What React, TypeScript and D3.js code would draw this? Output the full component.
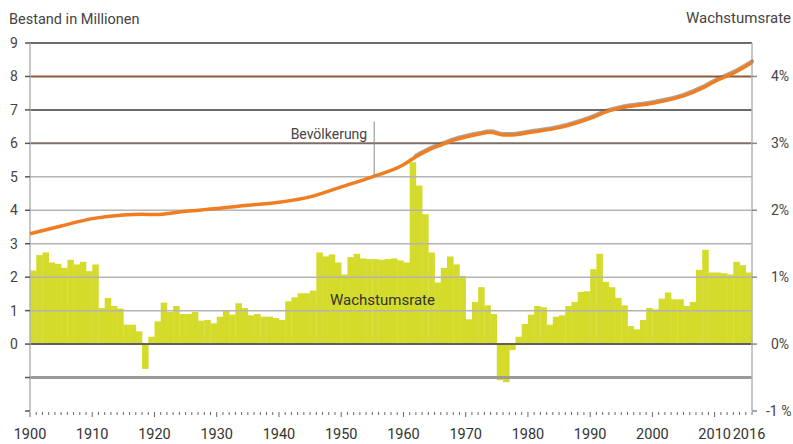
import { useEffect, useRef } from "react";
import * as d3 from "d3";

// Wachstumsrate in % pro Jahr, 1900..2015
const rateStartYear = 1900;
const growthRate = [
  1.10, 1.33, 1.37, 1.22, 1.20, 1.14, 1.26, 1.19, 1.23, 1.09,
  1.19, 0.54, 0.69, 0.57, 0.53, 0.29, 0.29, 0.19, -0.37, 0.11,
  0.34, 0.62, 0.48, 0.57, 0.45, 0.45, 0.48, 0.35, 0.36, 0.31,
  0.41, 0.50, 0.44, 0.61, 0.54, 0.43, 0.45, 0.41, 0.41, 0.39,
  0.36, 0.64, 0.70, 0.76, 0.76, 0.80, 1.37, 1.31, 1.34, 1.22,
  1.04, 1.30, 1.35, 1.28, 1.27, 1.27, 1.26, 1.27, 1.28, 1.25,
  1.22, 2.72, 2.37, 1.94, 1.37, 0.92, 1.14, 1.31, 1.19, 1.02,
  0.37, 0.63, 0.85, 0.58, 0.45, -0.54, -0.57, -0.09, 0.11, 0.30,
  0.44, 0.57, 0.55, 0.29, 0.41, 0.43, 0.57, 0.63, 0.78, 0.79,
  1.12, 1.35, 0.93, 0.85, 0.69, 0.58, 0.27, 0.22, 0.36, 0.54,
  0.52, 0.68, 0.77, 0.67, 0.67, 0.57, 0.63, 1.11, 1.41, 1.07,
  1.07, 1.06, 1.04, 1.23, 1.18, 1.07,
];

// Bevölkerung in Millionen
const popYears = [
  1900, 1905, 1910, 1915, 1918, 1920, 1925, 1930, 1935, 1940, 1945, 1950,
  1955, 1960, 1962, 1964, 1966, 1968, 1970, 1972, 1974, 1976, 1978, 1980,
  1985, 1990, 1993, 1995, 2000, 2005, 2008, 2010, 2013, 2016,
];
const popValues = [
  3.30, 3.53, 3.75, 3.86, 3.88, 3.87, 3.97, 4.05, 4.15, 4.24, 4.40, 4.70,
  5.00, 5.36, 5.60, 5.80, 5.95, 6.09, 6.19, 6.27, 6.33, 6.25, 6.26, 6.32,
  6.47, 6.75, 6.97, 7.06, 7.20, 7.42, 7.65, 7.85, 8.10, 8.42,
];

const leftTicks = [-2, -1, 0, 1, 2, 3, 4, 5, 6, 7, 8, 9];
const rightTicks = [-1, 0, 1, 2, 3, 4];
const xLabels = [1900, 1910, 1920, 1930, 1940, 1950, 1960, 1970, 1980, 1990, 2000, 2010, 2016];

export default function App() {
  const svgRef = useRef<SVGSVGElement | null>(null);

  useEffect(() => {
    document.body.style.margin = "0";
    const svg = d3.select(svgRef.current);
    const width = 793;
    const height = 444;
    const margin = { top: 43, right: 41, bottom: 33, left: 30 };
    const font = "Roboto, 'Noto Sans', sans-serif";

    svg.selectAll("*").remove();
    svg.attr("width", width).attr("height", height).style("font-family", font);

    const x = d3.scaleLinear().domain([1900, 2016]).range([margin.left, width - margin.right]);
    const yL = d3.scaleLinear().domain([-2, 9]).range([height - margin.bottom, margin.top]);
    const yR = d3.scaleLinear().domain([-1, 4.5]).range([height - margin.bottom, margin.top]);

    // bars
    const bars = growthRate.map((v, i) => ({ year: rateStartYear + i, v }));
    svg.append("g")
      .selectAll("rect")
      .data(bars)
      .enter()
      .append("rect")
      .attr("x", (d) => x(d.year))
      .attr("width", (d) => x(d.year + 1) - x(d.year) + 0.3)
      .attr("y", (d) => yR(Math.max(0, d.v)))
      .attr("height", (d) => Math.abs(yR(d.v) - yR(0)))
      .attr("fill", "#d5db2b");

    // grid
    const gridStyle = (t: number) => {
      if (t === 9 || t === 7) return { c: "#6b6b6b", w: 2 };
      if (t === 8) return { c: "#8d5a3a", w: 2 };
      if (t === 6) return { c: "#7d6f66", w: 2 };
      if (t === 0) return { c: "#5f5f5f", w: 2 };
      if (t === -1) return { c: "#9a9a9a", w: 3 };
      return { c: "#b4b4b4", w: 1.5 };
    };
    const grid = svg.append("g");
    leftTicks.filter((t) => t > -2).forEach((t) => {
      const s = gridStyle(t);
      grid.append("line")
        .attr("x1", x(1900)).attr("x2", x(2016))
        .attr("y1", yL(t)).attr("y2", yL(t))
        .attr("stroke", s.c).attr("stroke-width", s.w);
    });

    // vertical axes
    svg.append("line")
      .attr("x1", x(1900)).attr("x2", x(1900))
      .attr("y1", yL(9)).attr("y2", yL(-2))
      .attr("stroke", "#b4b4b4").attr("stroke-width", 1.5);
    svg.append("line")
      .attr("x1", x(2016)).attr("x2", x(2016))
      .attr("y1", yL(9)).attr("y2", yL(-2))
      .attr("stroke", "#b4b4b4").attr("stroke-width", 1.5);

    // left ticks + labels
    const lt = svg.append("g");
    leftTicks.forEach((t) => {
      lt.append("line")
        .attr("x1", x(1900) - 5).attr("x2", x(1900))
        .attr("y1", yL(t)).attr("y2", yL(t))
        .attr("stroke", "#555").attr("stroke-width", 1.5);
      if (t >= 0) {
        lt.append("text")
          .attr("x", 14).attr("y", yL(t))
          .attr("dy", "0.35em")
          .attr("text-anchor", "middle")
          .attr("font-size", 14)
          .attr("fill", "#444")
          .text(String(t));
      }
    });

    // right ticks + labels
    const rt = svg.append("g");
    rightTicks.forEach((t) => {
      rt.append("line")
        .attr("x1", x(2016)).attr("x2", x(2016) + 5)
        .attr("y1", yR(t)).attr("y2", yR(t))
        .attr("stroke", "#888").attr("stroke-width", 1.5);
      rt.append("text")
        .attr("x", t < 0 ? 766 : 771).attr("y", yR(t))
        .attr("dy", "0.35em")
        .attr("font-size", 14)
        .attr("fill", "#444")
        .text(t < 0 ? `${t} %` : `${t}%`);
    });

    // x axis: yearly minor ticks, decade major ticks
    const xa = svg.append("g");
    const yBase = yL(-2);
    d3.range(1900, 2017).forEach((yr) => {
      const major = yr % 10 === 0;
      xa.append("line")
        .attr("x1", x(yr)).attr("x2", x(yr))
        .attr("y1", yBase + 1).attr("y2", yBase + (major ? 6 : 4))
        .attr("stroke", "#666").attr("stroke-width", 1);
    });
    xLabels.forEach((yr) => {
      xa.append("text")
        .attr("x", x(yr) + (yr === 2016 ? -3 : 0)).attr("y", 439)
        .attr("text-anchor", "middle")
        .attr("font-size", 14.5)
        .attr("fill", "#333")
        .text(String(yr));
    });

    // population line
    const pop = popYears.map((yr, i) => ({ yr, v: popValues[i] }));
    const line = d3.line<{ yr: number; v: number }>()
      .x((d) => x(d.yr))
      .y((d) => yL(d.v))
      .curve(d3.curveMonotoneX);
    svg.append("path")
      .datum(pop.filter((d) => d.yr >= 1962))
      .attr("d", line)
      .attr("fill", "none")
      .attr("stroke", "#6b5a50")
      .attr("stroke-opacity", 0.55)
      .attr("stroke-width", 4)
      .attr("stroke-linecap", "round")
      .attr("transform", "translate(0,-1)");
    svg.append("path")
      .datum(pop)
      .attr("d", line)
      .attr("fill", "none")
      .attr("stroke", "#f07d22")
      .attr("stroke-width", 3.5)
      .attr("stroke-linejoin", "round");

    // labels
    svg.append("line")
      .attr("x1", x(1955.3)).attr("x2", x(1955.3))
      .attr("y1", yL(6.65)).attr("y2", yL(5.02))
      .attr("stroke", "#888").attr("stroke-width", 1);
    svg.append("text")
      .attr("x", x(1955.3) - 7).attr("y", 139)
      .attr("text-anchor", "end")
      .attr("font-size", 14)
      .attr("fill", "#444")
      .text("Bevölkerung");
    svg.append("text")
      .attr("x", 330).attr("y", 305)
      .attr("font-size", 15)
      .attr("fill", "#333")
      .text("Wachstumsrate");

    svg.append("text")
      .attr("x", 9).attr("y", 24)
      .attr("font-size", 14.5)
      .attr("fill", "#444")
      .text("Bestand in Millionen");
    svg.append("text")
      .attr("x", 791).attr("y", 23)
      .attr("text-anchor", "end")
      .attr("font-size", 15)
      .attr("fill", "#444")
      .text("Wachstumsrate");
  }, []);

  return (
    <div>
      <svg ref={svgRef} style={{ display: "block" }} />
    </div>
  );
}
